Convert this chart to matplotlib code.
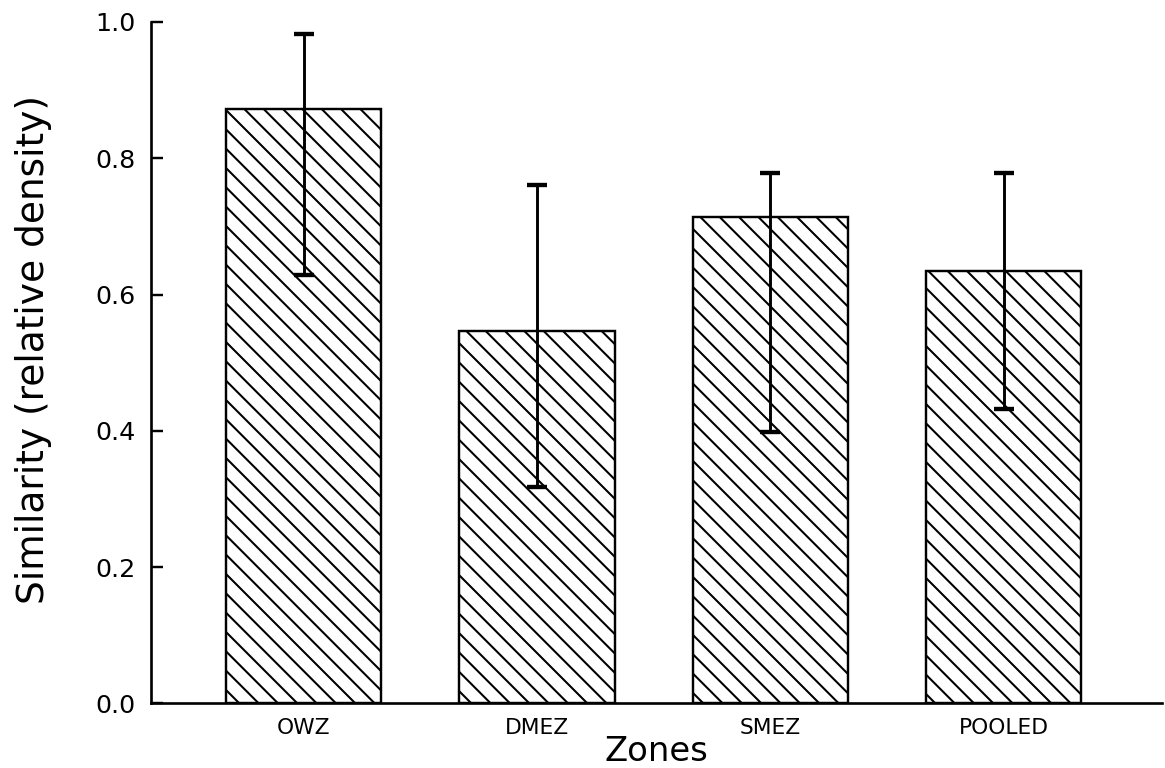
import matplotlib
matplotlib.use("Agg")
import matplotlib.pyplot as plt
import numpy as np

categories = ["OWZ", "DMEZ", "SMEZ", "POOLED"]
means = [0.872, 0.546, 0.714, 0.635]
err_upper = [0.982, 0.760, 0.779, 0.779]
err_lower = [0.629, 0.317, 0.399, 0.432]
yticks = [0.0, 0.2, 0.4, 0.6, 0.8, 1.0]
ytick_labels = ["0.0", "0.2", "0.4", "0.6", "0.8", "1.0"]

DPI = 174
plt.rcParams['font.family'] = ['DejaVu Sans']
plt.rcParams['hatch.linewidth'] = 0.85
plt.rcParams['hatch.color'] = 'black'

fig = plt.figure(figsize=(1165 / DPI, 768 / DPI), dpi=DPI)
ax = fig.add_axes([0.1295, 0.084, 0.868, 0.8875])

x = np.arange(len(categories))
ax.bar(x, means, width=0.665, color='white', edgecolor='black',
       linewidth=1.0, hatch='\\\\\\', zorder=2)

m = np.array(means)
yerr = np.vstack([m - np.array(err_lower), np.array(err_upper) - m])
ax.errorbar(x, means, yerr=yerr, fmt='none', ecolor='black',
            elinewidth=1.2, capsize=4.2, capthick=1.8, zorder=3)

ax.set_xlim(-0.655, 3.679)
ax.set_ylim(0, 1.0)
ax.set_yticks(yticks)
ax.set_yticklabels(ytick_labels, fontsize=10.5)
ax.set_xticks(x)
ax.set_xticklabels(categories, fontsize=9)
ax.tick_params(axis='x', length=0, pad=6)
ax.tick_params(axis='y', direction='in', length=5, width=1.0, pad=6.5)

for s in ['top', 'right']:
    ax.spines[s].set_visible(False)
for s in ['left', 'bottom']:
    ax.spines[s].set_linewidth(1.1)

ax.set_xlabel("Zones", fontsize=14, va='baseline')
ax.xaxis.set_label_coords(0.5, -0.0844)
ax.set_ylabel("Similarity (relative density)", fontsize=15.5, va='center')
ax.yaxis.set_label_coords(-0.116, 0.52)

fig.savefig("out.png", dpi=DPI, facecolor='white')
